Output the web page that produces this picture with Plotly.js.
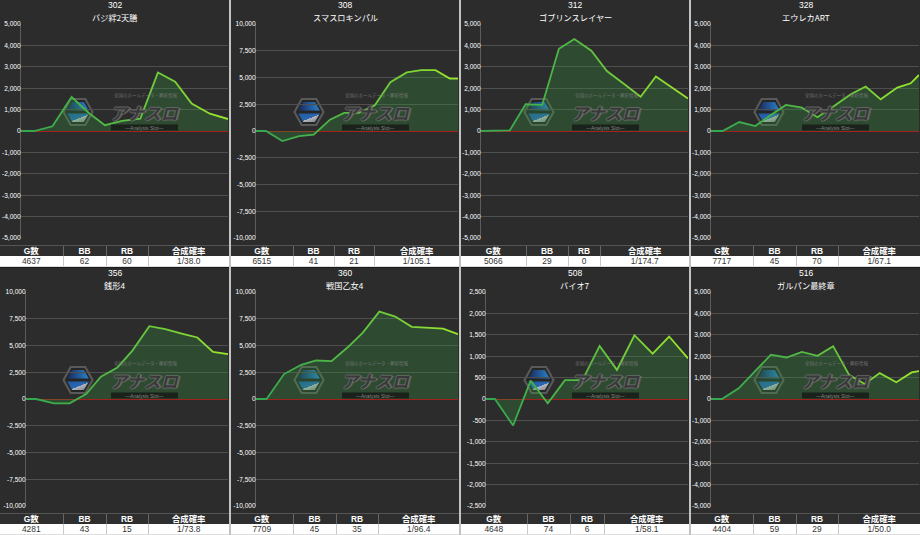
<!DOCTYPE html>
<html><head><meta charset="utf-8">
<script src="https://cdn.plot.ly/plotly-3.0.1.min.js"></script>
<style>
html,body{margin:0;padding:0;background:#1b1b1b;}
#wrap{position:relative;width:920px;height:535px;background:#1b1b1b;overflow:hidden;}
.panel{position:absolute;background:#2c2c2c;height:266px;}
.vsep{position:absolute;top:0;width:2px;height:535px;background:#c2c2c2;}
.chart{height:245px;}
table{border-collapse:collapse;table-layout:fixed;width:100%;font-family:"Liberation Sans","Noto Sans CJK JP",sans-serif;}
th{background:#2e2e2e;color:#fff;font-weight:bold;font-size:8.4px;height:10px;line-height:10px;padding:0;border-top:1px solid #555;border-left:1px solid #666;text-align:center;overflow:hidden;}
td{background:#fff;color:#333;font-size:8.4px;height:10px;line-height:10px;padding:0;border-left:1px solid #c8c8c8;text-align:center;border-bottom:1px solid #ddd;overflow:hidden;}
th:first-child,td:first-child{border-left:none;}
</style></head>
<body><div id="wrap"></div>
<script>
// ---- data ----
const machineNos = ['302','308','312','328','356','360','508','516'];
const machineNames = ['バジ絆2天膳','スマスロキンパル','ゴブリンスレイヤー','エウレカART','銭形4','戦国乙女4','バイオ7','ガルパン最終章'];
const gCounts = [4637, 6515, 5066, 7717, 4281, 7709, 4648, 4404];
const bbCounts = [62, 41, 29, 45, 43, 45, 74, 59];
const rbCounts = [60, 21, 0, 70, 15, 35, 6, 29];
const synthRates = ['1/38.0','1/105.1','1/174.7','1/67.1','1/73.8','1/96.4','1/58.1','1/50.0'];
const tableHeaders = ['G数','BB','RB','合成確率'];

const x302 = [0,0.76,1.81,2.91,3.9,4.82,5.81,6.86,7.87,8.86,9.81,10.86,11.9];
const y302 = [0,0,220,1590,840,270,470,580,2730,2300,1280,810,560];
const x308 = [0,0.64,1.70,2.77,3.72,4.77,5.68,6.64,7.66,8.66,9.72,10.64,11.57,12.49,13.02];
const y308 = [0,0,-940,-470,-340,1060,1690,1690,2400,4560,5470,5690,5690,4900,4900];
const x312 = [0,0.82,1.79,2.78,3.81,4.85,5.81,6.87,7.84,8.87,9.94,10.89,11.86,12.89];
const y312 = [0,0,30,1250,1220,3840,4300,3750,2800,2220,1600,2550,2030,1520];
const x328 = [0,0.74,1.81,2.83,3.83,4.79,5.81,6.81,7.87,8.94,9.89,10.85,11.91,12.77,13.3];
const y328 = [0,0,420,230,750,1220,1090,640,1170,1720,2080,1480,2030,2230,2620];
const x356 = [0,0.64,1.8,2.8,3.86,4.81,5.87,6.82,7.92,8.94,10,11,12.01,12.97];
const y356 = [0,0,-400,-400,470,2080,2950,4500,6800,6520,6120,5750,4410,4190];
const x360 = [0,0.68,1.8,2.9,3.86,4.85,5.87,6.86,7.92,8.94,10,11,12.01,12.97];
const y360 = [0,0,2330,3200,3600,3540,4810,6210,8170,7700,6740,6650,6580,6060];
const x508 = [0,0.52,1.58,2.6,3.6,4.6,5.62,6.62,7.63,8.65,9.71,10.67,11.77];
const y508 = [0,0,-620,430,-100,440,440,1240,680,1490,1060,1460,950];
const x516 = [0,0.7,1.77,2.79,3.83,4.83,5.81,6.81,7.81,8.83,9.83,10.79,11.85,12.83,13.3];
const y516 = [0,0,500,1270,2070,1940,2200,2020,2470,1130,700,1210,780,1240,1300];

const ticks5000 = [-5000,-4000,-3000,-2000,-1000,0,1000,2000,3000,4000,5000];
const labels5000 = ['-5,000','-4,000','-3,000','-2,000','-1,000','0','1,000','2,000','3,000','4,000','5,000'];
const ticks10000 = [-10000,-7500,-5000,-2500,0,2500,5000,7500,10000];
const labels10000 = ['-10,000','-7,500','-5,000','-2,500','0','2,500','5,000','7,500','10,000'];
const ticks2500 = [-2500,-2000,-1500,-1000,-500,0,500,1000,1500,2000,2500];
const labels2500 = ['-2,500','-2,000','-1,500','-1,000','-500','0','500','1,000','1,500','2,000','2,500'];

const xSeries = [x302,x308,x312,x328,x356,x360,x508,x516];
const ySeries = [y302,y308,y312,y328,y356,y360,y508,y516];
const yTicks = [ticks5000,ticks10000,ticks5000,ticks5000,ticks10000,ticks10000,ticks2500,ticks5000];
const yLabels = [labels5000,labels10000,labels5000,labels5000,labels10000,labels10000,labels2500,labels5000];

// watermark texts
const wmSub = '全国のホールデータ・解析情報';
const wmMain = 'アナスロ';
const wmEn = '—Analysis Slot—';

// ---- layout / style ----
const PL = [0,231,461,691], PW = [229,228,228,229], ROWTOP = [0,268];
const CH = 245, MT = 24, MB = 7, MR = 1;
const leftM = [21,25,20,20,26,25,25,20];
const colW = [[63,43,42],[62,41,40],[65,42,32],[62,43,42],[63,43,42],[62,43,42],[66,43,34],[62,43,42]];
const FONT = '"Noto Sans CJK JP","Noto Sans",sans-serif';

const hexSvg = '<svg xmlns="http://www.w3.org/2000/svg" viewBox="0 0 32 30">'+
 '<defs><linearGradient id="a" x1="0" y1="0" x2="1" y2="0"><stop offset="0" stop-color="#17285e"/><stop offset="1" stop-color="#2b8de0"/></linearGradient>'+
 '<linearGradient id="b" x1="0" y1="0" x2="1" y2="1"><stop offset="0" stop-color="#1f5fb0"/><stop offset="0.55" stop-color="#2a6fc0"/><stop offset="0.56" stop-color="#c4c8d0"/><stop offset="1" stop-color="#7d828c"/></linearGradient></defs>'+
 '<polygon points="1.5,15 8.7,2 23.3,2 30.5,15 23.3,28 8.7,28" fill="#262626" stroke="#5e5e5e" stroke-width="2.2"/>'+
 '<polygon points="5.2,13.6 10.2,5 21.8,5 26.8,13.6" fill="url(#a)"/>'+
 '<polygon points="5.2,16.4 26.8,16.4 21.8,25 10.2,25" fill="url(#b)"/>'+
 '</svg>';
const hexSrc = 'data:image/svg+xml;charset=utf-8,' + encodeURIComponent(hexSvg);

const wrap = document.getElementById('wrap');
[229,459,689].forEach(x=>{const d=document.createElement('div');d.className='vsep';d.style.left=x+'px';wrap.appendChild(d);});

const ns = 'http://www.w3.org/2000/svg';

for (let i=0;i<8;i++){
  const col=i%4,row=Math.floor(i/4);
  const W=PW[col], l=leftM[i];
  const panel=document.createElement('div');
  panel.className='panel';
  panel.style.left=PL[col]+'px'; panel.style.top=ROWTOP[row]+'px'; panel.style.width=W+'px';
  const ch=document.createElement('div'); ch.className='chart'; ch.style.width=W+'px'; ch.id='c'+i;
  panel.appendChild(ch);
  const tbl=document.createElement('table');
  const cw=colW[i];
  let html='<colgroup><col style="width:'+cw[0]+'px"><col style="width:'+cw[1]+'px"><col style="width:'+cw[2]+'px"><col></colgroup>';
  html+='<tr>'+tableHeaders.map(h=>'<th>'+h+'</th>').join('')+'</tr>';
  html+='<tr><td>'+gCounts[i]+'</td><td>'+bbCounts[i]+'</td><td>'+rbCounts[i]+'</td><td>'+synthRates[i]+'</td></tr>';
  tbl.innerHTML=html;
  panel.appendChild(tbl);
  wrap.appendChild(panel);

  const w=W-l-MR, h=CH-MT-MB;
  const px=(x)=>(x-l)/w, py=(y)=>1-(y-MT)/h;
  const R=yTicks[i][yTicks[i].length-1];
  const xs=xSeries[i];

  const layout={
    width:W,height:CH,margin:{l:l,r:MR,t:MT,b:MB,pad:0},
    paper_bgcolor:'#2c2c2c',plot_bgcolor:'#2c2c2c',showlegend:false,
    font:{family:FONT,color:'#fff'},
    xaxis:{range:[xs[0],xs[xs.length-1]],showgrid:false,zeroline:false,showticklabels:false,showline:false,ticks:'',fixedrange:true},
    yaxis:{range:[-R,R],tickmode:'array',tickvals:yTicks[i],ticktext:yLabels[i],showgrid:true,gridcolor:'#4f4f4f',gridwidth:1,
      zeroline:true,zerolinecolor:'#a3221c',zerolinewidth:1,showline:true,linecolor:'#5c5c5c',linewidth:1,ticks:'',
      tickfont:{size:6.6,color:'#ffffff',family:'"Liberation Sans",Arial,sans-serif'},ticklabelstandoff:-2,fixedrange:true},
    images:[{source:hexSrc,xref:'paper',yref:'paper',x:px(62),y:py(97),sizex:32/w,sizey:30/h,xanchor:'left',yanchor:'top',sizing:'stretch',layer:'below',opacity:0.9}],
    shapes:[{type:'rect',xref:'paper',yref:'paper',x0:px(111),x1:px(178),y0:py(130.5),y1:py(124.5),fillcolor:'rgba(20,20,20,0.75)',line:{width:0},layer:'above'}],
    annotations:[
      {text:machineNos[i],xref:'paper',yref:'paper',x:px(W/2),y:py(5.5),xanchor:'center',yanchor:'middle',showarrow:false,font:{size:8.5,color:'#fff',family:'"Liberation Sans",sans-serif'}},
      {text:machineNames[i],xref:'paper',yref:'paper',x:px(W/2),y:py(16.6),xanchor:'center',yanchor:'middle',showarrow:false,font:{size:8.2,color:'#fff',family:FONT}},
      {text:wmSub,xref:'paper',yref:'paper',x:px(145),y:py(95.8),xanchor:'center',yanchor:'middle',showarrow:false,font:{size:4.5,color:'rgba(125,125,125,0.85)',family:FONT}},
      {text:wmMain,xref:'paper',yref:'paper',x:px(144),y:py(112),xanchor:'center',yanchor:'middle',showarrow:false,
        font:{size:17,color:'rgba(36,36,36,0.72)',family:FONT,weight:'bold',style:'italic',shadow:'1px 0 0 #707070, -1px 0 0 #707070, 0 1px 0 #707070, 0 -1px 0 #707070, 2px 0 0 #707070'}},
      {text:wmEn,xref:'paper',yref:'paper',x:px(144.5),y:py(127.5),xanchor:'center',yanchor:'middle',showarrow:false,
        font:{size:5,color:'rgba(150,150,150,0.9)',family:'"Liberation Sans",sans-serif'}}
    ]
  };
  const trace={x:xs,y:ySeries[i],type:'scatter',mode:'lines',fill:'tozeroy',fillcolor:'rgba(52,160,64,0.27)',
    line:{color:'#5cc23e',width:1.8},hoverinfo:'skip'};
  Plotly.newPlot(ch,[trace],layout,{staticPlot:true,displayModeBar:false}).then(gd=>{
    const svg=gd.querySelector('svg.main-svg');
    let defs=svg.querySelector('defs');
    if(!defs){defs=document.createElementNS(ns,'defs');svg.insertBefore(defs,svg.firstChild);}
    const lg=document.createElementNS(ns,'linearGradient');
    lg.setAttribute('id','lg'+i);lg.setAttribute('x1','0');lg.setAttribute('y1','0');lg.setAttribute('x2','1');lg.setAttribute('y2','0');
    [['0','#33a651'],['0.45','#54bb43'],['1','#9ce62c']].forEach(s=>{const st=document.createElementNS(ns,'stop');st.setAttribute('offset',s[0]);st.setAttribute('stop-color',s[1]);lg.appendChild(st);});
    defs.appendChild(lg);
    gd.querySelectorAll('path.js-line').forEach(p=>{p.style.stroke='url(#lg'+i+')';});
  });
}
</script></body></html>
